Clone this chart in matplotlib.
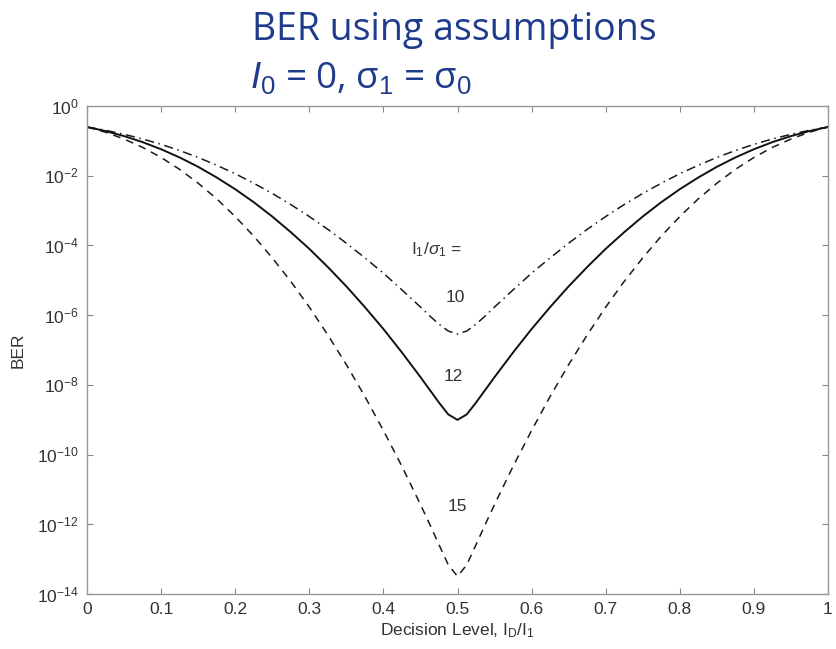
import matplotlib
matplotlib.use("Agg")
import matplotlib.pyplot as plt
from matplotlib.ticker import FixedLocator, NullLocator

plt.rcParams["mathtext.fontset"] = "custom"
plt.rcParams["mathtext.rm"] = "Liberation Sans"
plt.rcParams["mathtext.it"] = "Liberation Sans:italic"
plt.rcParams["mathtext.bf"] = "Liberation Sans:bold"
plt.rcParams["mathtext.sf"] = "Liberation Sans"

# Decision level I_D/I_1
decision_level = [0.0, 0.025, 0.05, 0.075, 0.1, 0.125, 0.15, 0.175, 0.2, 0.225,
                  0.25, 0.275, 0.3, 0.325, 0.35, 0.375, 0.4, 0.425, 0.45, 0.4625, 0.475, 0.4875,
                  0.5, 0.5125, 0.525, 0.5375, 0.55, 0.575, 0.6, 0.625, 0.65, 0.675, 0.7, 0.725,
                  0.75, 0.775, 0.8, 0.825, 0.85, 0.875, 0.9, 0.925, 0.95, 0.975, 1.0]

# BER for I1/sigma1 = 10 (dash-dot)
ber_q10 = [0.25, 0.2006, 0.1543, 0.1133, 0.0794, 0.0528, 0.0334, 0.020, 0.0114, 0.0061,
           0.0031, 0.00149, 6.75e-4, 2.9e-4, 1.16e-4, 4.4e-5, 1.6e-5, 5.3e-6, 1.71e-6, 9.5e-7,
           5.5e-7, 3.5e-7,
           2.87e-7,
           3.5e-7, 5.5e-7, 9.5e-7, 1.71e-6, 5.3e-6, 1.6e-5, 4.4e-5, 1.16e-4, 2.9e-4, 6.75e-4,
           0.00149, 0.0031, 0.0061, 0.0114, 0.020, 0.0334, 0.0528, 0.0794, 0.1133, 0.1543,
           0.2006, 0.25]

# BER for I1/sigma1 = 12 (solid)
ber_q12 = [0.25, 0.191, 0.137, 0.092, 0.0575, 0.0334, 0.018, 0.0089, 0.0041, 0.00174,
           6.75e-4, 2.4e-4, 8.0e-5, 2.4e-5, 6.7e-6, 1.7e-6, 4.0e-7, 8.5e-8, 1.67e-8, 7.2e-9,
           3.1e-9, 1.42e-9,
           9.9e-10,
           1.42e-9, 3.1e-9, 7.2e-9, 1.67e-8, 8.5e-8, 4.0e-7, 1.7e-6, 6.7e-6, 2.4e-5, 8.0e-5,
           2.4e-4, 6.75e-4, 0.00174, 0.0041, 0.0089, 0.018, 0.0334, 0.0575, 0.092, 0.137,
           0.191, 0.25]

# BER for I1/sigma1 = 15 (dashed)
ber_q15 = [0.25, 0.177, 0.113, 0.065, 0.0334, 0.0152, 0.0061, 0.00217, 6.75e-4, 1.85e-4,
           4.4e-5, 9.3e-6, 1.7e-6, 2.7e-7, 3.8e-8, 4.65e-9, 4.9e-10, 4.6e-11, 3.7e-12, 1.0e-12,
           2.6e-13, 6.9e-14,
           3.2e-14,
           6.9e-14, 2.6e-13, 1.0e-12, 3.7e-12, 4.6e-11, 4.9e-10, 4.65e-9, 3.8e-8, 2.7e-7, 1.7e-6,
           9.3e-6, 4.4e-5, 1.85e-4, 6.75e-4, 0.00217, 0.0061, 0.0152, 0.0334, 0.065, 0.113,
           0.177, 0.25]

curve_labels = ["10", "12", "15"]
x_ticks = [0, 0.1, 0.2, 0.3, 0.4, 0.5, 0.6, 0.7, 0.8, 0.9, 1]
x_tick_labels = ["0", "0.1", "0.2", "0.3", "0.4", "0.5", "0.6", "0.7", "0.8", "0.9", "1"]
y_exponents = [0, -2, -4, -6, -8, -10, -12, -14]

W, H = 836, 649
fig = plt.figure(figsize=(W / 100, H / 100), dpi=100)
fig.patch.set_facecolor("white")

ax = fig.add_axes([87 / W, 1 - 594 / H, (828 - 87) / W, (594 - 106) / H])
ax.set_yscale("log")

ax.plot(decision_level, ber_q10, linestyle=(0, (6, 3, 1, 3)), color="#1a1a1a", linewidth=1.1)
ax.plot(decision_level, ber_q12, linestyle="-", color="#111111", linewidth=1.4)
ax.plot(decision_level, ber_q15, linestyle=(0, (5, 4)), color="#1a1a1a", linewidth=1.1)

ax.set_xlim(0, 1)
ax.set_ylim(1e-14, 1e0)

tick_color = "#333333"
fs = 12.5

ax.xaxis.set_major_locator(FixedLocator(x_ticks))
ax.set_xticklabels(x_tick_labels, family="Liberation Sans", size=fs, color=tick_color)
ax.yaxis.set_major_locator(FixedLocator([10.0 ** e for e in y_exponents]))
ax.yaxis.set_minor_locator(NullLocator())
ax.set_yticklabels([r"$10^{%d}$" % e for e in y_exponents], color=tick_color, size=fs)
ax.tick_params(axis="both", which="major", direction="in", length=4, width=0.8,
               colors="#888888", top=True, right=True, pad=6)
for lab in ax.get_xticklabels() + ax.get_yticklabels():
    lab.set_color(tick_color)

for sp in ax.spines.values():
    sp.set_color("#999999")
    sp.set_linewidth(1.0)

ax.set_xlabel(r"Decision Level, I$_{\mathrm{D}}$/I$_1$", fontsize=fs,
              family="Liberation Sans", color=tick_color, labelpad=3)
ax.set_ylabel("BER", fontsize=fs, family="Liberation Sans", color=tick_color, labelpad=8)

# in-plot annotations
ax.text(0.472, 10 ** -4.13, r"I$_1$/$\sigma_1$ =", ha="center", va="center",
        fontsize=fs, family="Liberation Sans", color=tick_color)
ann_pos = [(0.497, -5.48), (0.494, -7.77), (0.50, -11.5)]
for lab, (xp, ye) in zip(curve_labels, ann_pos):
    ax.text(xp, 10 ** ye, lab, ha="center", va="center", fontsize=fs,
            family="Liberation Sans", color=tick_color)

title_color = "#1f3b8c"
fig.text(252 / W, 1 - 40 / H, "BER using assumptions", ha="left", va="baseline",
         fontsize=27, family="Open Sans", color=title_color)
fig.text(250 / W, 1 - 88 / H,
         r"$\mathit{I}_0$ = 0, $\mathregular{\sigma}_1$ = $\mathregular{\sigma}_0$",
         ha="left", va="baseline", fontsize=26.5, family="Open Sans", color=title_color)

fig.savefig("out.png", dpi=100)
